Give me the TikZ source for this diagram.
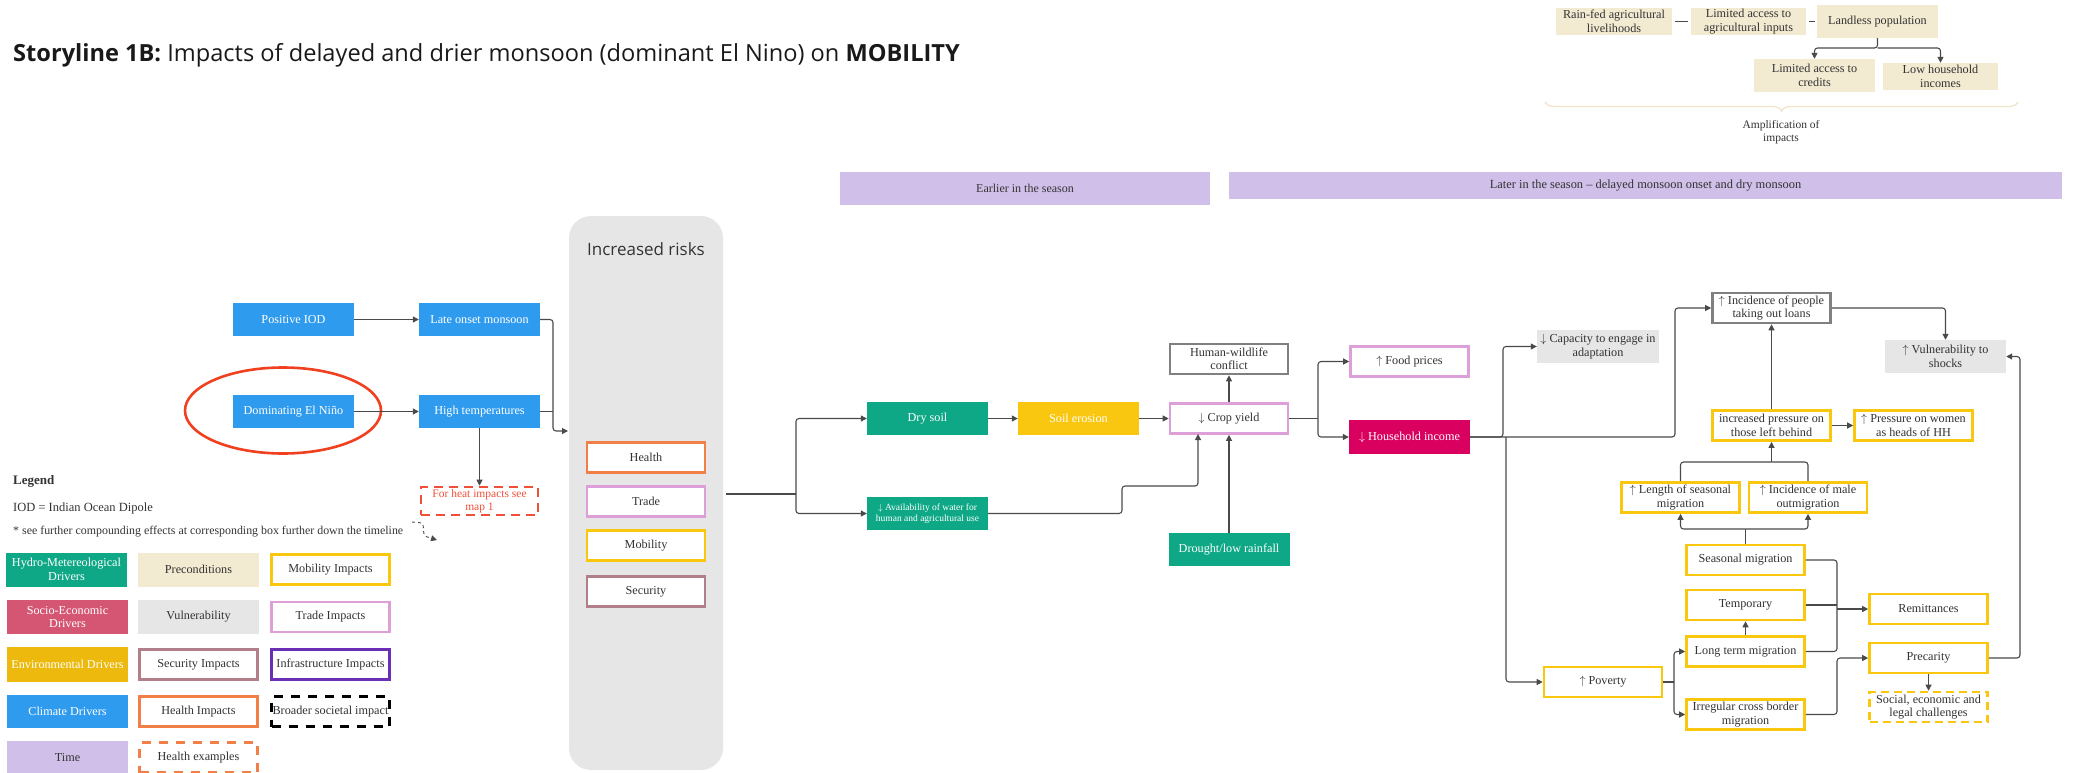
\documentclass[tikz,border=0pt]{standalone}
\usepackage{fontspec}
\setmainfont{Liberation Serif}
\newfontfamily\opensans{Open Sans}
\usetikzlibrary{arrows.meta,decorations.pathreplacing,shapes.geometric,positioning}

\definecolor{climblue}{HTML}{2F9BEF}
\definecolor{hydteal}{HTML}{0EA886}
\definecolor{envgold}{HTML}{ECB90C}
\definecolor{erosionyel}{HTML}{F9C70F}
\definecolor{socired}{HTML}{D45673}
\definecolor{hhmagenta}{HTML}{D9005F}
\definecolor{precbeige}{HTML}{F3EAD2}
\definecolor{vulngrey}{HTML}{E6E6E6}
\definecolor{timelav}{HTML}{D0BFE8}
\definecolor{mobyel}{HTML}{F9C80E}
\definecolor{tradepink}{HTML}{DD9FD8}
\definecolor{secmauve}{HTML}{B07F8A}
\definecolor{infrapurple}{HTML}{6A2FB4}
\definecolor{healthorange}{HTML}{F27F48}
\definecolor{heatred}{HTML}{F0503A}
\definecolor{ringred}{HTML}{F0401F}
\definecolor{txtdark}{HTML}{333333}
\definecolor{linegrey}{HTML}{4A4A4A}
\definecolor{bordergrey}{HTML}{808080}
\definecolor{bracebeige}{HTML}{EFE4C8}

\tikzset{
    box/.style={rectangle, minimum width=121pt, minimum height=33pt, inner sep=1pt,
        align=center, text=txtdark, font=\fontsize{12.2}{13.5}\selectfont},
    climate/.style={box, fill=climblue, text=white},
    hydro/.style={box, fill=hydteal, text=white},
    envdriver/.style={box, fill=envgold, text=white},
    socio/.style={box, fill=socired, text=white},
    precond/.style={box, fill=precbeige},
    vuln/.style={box, fill=vulngrey},
    timebar/.style={box, fill=timelav},
    framed/.style={box, fill=white, line width=2.6pt, minimum width=118pt, minimum height=30pt},
    mobility/.style={framed, draw=mobyel},
    trade/.style={framed, draw=tradepink},
    security/.style={framed, draw=secmauve},
    infra/.style={framed, draw=infrapurple},
    health/.style={framed, draw=healthorange},
    neutral/.style={framed, draw=bordergrey},
    arr/.style={draw=linegrey, line width=1.1pt, rounded corners=3pt, -{Triangle[length=6pt,width=6pt]}},
    link/.style={draw=linegrey, line width=1.1pt, rounded corners=3pt}
}

\begin{document}
\begin{tikzpicture}[x=1pt, y=-1pt]

    \useasboundingbox (0,0) rectangle (2076,773);

    % Title

    \node[anchor=base west, inner sep=0pt, text=black!90, font=\opensans\fontsize{23.6}{26}\selectfont] (title) at (13,62)
        {\textbf{Storyline 1B:} Impacts of delayed and drier monsoon (dominant El Nino) on \textbf{MOBILITY}};

    % Preconditions (top right)

    \node[precond, minimum width=116pt, minimum height=27pt] (rainfed) at (1614,21.5) {Rain-fed agricultural\\livelihoods};
    \node[precond, minimum width=115pt, minimum height=27pt] (inputs) at (1748.5,21.5) {Limited access to\\agricultural inputs};
    \node[precond] (landless) at (1877.5,21.5) {Landless population};
    \node[precond] (credits) at (1814.5,75.5) {Limited access to\\credits};
    \node[precond, minimum width=115pt, minimum height=27pt] (lowinc) at (1940.5,76.5) {Low household\\incomes};
    \draw[bracebeige, line width=1.3pt, decorate, decoration={brace, mirror, amplitude=9pt}] (1545,102) -- (2018,102);
    \node[align=center, text=txtdark, font=\fontsize{11.5}{12.5}\selectfont] (amplif) at (1781,132) {Amplification of\\impacts};

    % Time

    \node[timebar, minimum width=370pt, font=\fontsize{12}{13}\selectfont] (earlier) at (1025,188.5) {Earlier in the season};
    \node[timebar, minimum width=833pt, minimum height=27pt, font=\fontsize{12.4}{13}\selectfont] (later) at (1645.5,185.5)
        {Later in the season -- delayed monsoon onset and dry monsoon};

    % Climate drivers

    \node[climate] (posiod) at (293.5,319.5) {Positive IOD};
    \node[climate] (lateonset) at (479.5,319.5) {Late onset monsoon};
    \node[climate] (elnino) at (293.5,411.5) {Dominating El Niño};
    \node[climate] (hightemp) at (479.5,411.5) {High temperatures};
    \node[ellipse, draw=ringred, line width=2.6pt, minimum width=196pt, minimum height=86pt] (ring) at (283,410.5) {};
    \node[box, draw=heatred, dashed, dash pattern=on 9pt off 6pt, line width=2.6pt, minimum width=117pt, minimum height=28pt,
        text=heatred, font=\fontsize{11.5}{12.5}\selectfont] (heat) at (479.5,501) {For heat impacts see\\map 1};
    \coordinate (dstart) at (412,522);
    \coordinate (dend) at (437,540);

    % Increased risks

    \node[fill=vulngrey, rounded corners=22pt, minimum width=154pt, minimum height=554pt] (risks) at (646,493) {};
    \node[text=txtdark, font=\opensans\fontsize{17}{20}\selectfont] (riskstitle) at (646,249) {Increased risks};
    \node[health] (rhealth) at (646,457.5) {Health};
    \node[trade] (rtrade) at (646,501.5) {Trade};
    \node[mobility] (rmobility) at (646,545.5) {Mobility};
    \node[security] (rsecurity) at (646,591.5) {Security};
    \coordinate (riskin) at (568,431);
    \coordinate (riskout) at (726,494);

    % Impact chain

    \node[hydro] (drysoil) at (927.5,418.5) {Dry soil};
    \node[box, fill=erosionyel, text=white] (erosion) at (1078.5,418.5) {Soil erosion};
    \node[trade] (crop) at (1229,418.5) {$\downarrow$ Crop yield};
    \node[neutral] (hwc) at (1229,359) {Human-wildlife\\conflict};
    \node[hydro, font=\fontsize{9.5}{11}\selectfont] (water) at (927.5,513.5) {$\downarrow$ Availability of water for\\human and agricultural use};
    \node[hydro] (drought) at (1229,549.5) {Drought/low rainfall};
    \node[trade] (food) at (1409.5,361.5) {$\uparrow$ Food prices};
    \node[box, fill=hhmagenta, text=white, minimum height=34pt] (hhinc) at (1409.5,437) {$\downarrow$ Household income};
    \node[vuln, minimum width=122pt] (capacity) at (1598,346.5) {$\downarrow$ Capacity to engage in\\adaptation};
    \node[neutral] (loans) at (1771.5,308) {$\uparrow$ Incidence of people\\taking out loans};
    \node[vuln] (vulnsh) at (1945.5,356.5) {$\uparrow$ Vulnerability to\\shocks};
    \node[mobility] (pressure) at (1771.5,425.5) {increased pressure on\\those left behind};
    \node[mobility] (women) at (1913.5,425.5) {$\uparrow$ Pressure on women\\as heads of HH};
    \node[mobility] (lengthsm) at (1680.5,497.5) {$\uparrow$ Length of seasonal\\migration};
    \node[mobility] (malemig) at (1808,497.5) {$\uparrow$ Incidence of male\\outmigration};
    \node[mobility] (seasonal) at (1745.5,560) {Seasonal migration};
    \node[mobility] (temporary) at (1745.5,605) {Temporary};
    \node[mobility] (longterm) at (1745.5,651.5) {Long term migration};
    \node[mobility] (irregular) at (1745.5,714.5) {Irregular cross border\\migration};
    \node[mobility] (poverty) at (1603,682) {$\uparrow$ Poverty};
    \node[mobility] (remit) at (1928.5,609) {Remittances};
    \node[mobility] (precarity) at (1928.5,658) {Precarity};
    \node[mobility, dashed, dash pattern=on 8pt off 5pt] (social) at (1928.5,707) {Social, economic and\\legal challenges};

    % Legend

    \node[anchor=west, inner sep=0pt, text=txtdark, font=\bfseries\fontsize{13}{14}\selectfont] (lgtitle) at (13,481) {Legend};
    \node[anchor=west, inner sep=0pt, text=txtdark, font=\fontsize{12.5}{14}\selectfont] (lgiod) at (13,508) {IOD = Indian Ocean Dipole};
    \node[anchor=west, inner sep=0pt, text=txtdark, font=\fontsize{11.9}{14}\selectfont] (lgnote) at (13,532)
        {* see further compounding effects at corresponding box further down the timeline};
    \node[hydro, minimum height=34pt] (lghydro) at (66.5,569.5) {Hydro-Metereological\\Drivers};
    \node[precond, minimum height=34pt] (lgprecond) at (198.5,569.5) {Preconditions};
    \node[mobility] (lgmobility) at (330.5,569.5) {Mobility Impacts};
    \node[socio, minimum height=34pt] (lgsocio) at (67.5,617) {Socio-Economic\\Drivers};
    \node[vuln, minimum height=34pt] (lgvuln) at (198.5,617) {Vulnerability};
    \node[trade] (lgtrade) at (330.5,617) {Trade Impacts};
    \node[envdriver, minimum height=35pt] (lgenv) at (67.5,664.5) {Environmental Drivers};
    \node[security] (lgsecurity) at (198.5,664.5) {Security Impacts};
    \node[infra] (lginfra) at (330.5,664.5) {Infrastructure Impacts};
    \node[climate] (lgclimate) at (67.5,711.5) {Climate Drivers};
    \node[health] (lghealth) at (198.5,711.5) {Health Impacts};
    \node[framed, draw=black, dashed, dash pattern=on 9pt off 8pt] (lgbroader) at (330.5,711.5) {Broader societal impact};
    \node[timebar, minimum height=34pt] (lgtime) at (67.5,758) {Time};
    \node[framed, draw=healthorange, dashed, dash pattern=on 9pt off 8pt] (lghealthex) at (198.5,757.5) {Health examples};

    % Edges

    \draw[link, shorten <=3pt, shorten >=3pt] (rainfed) -- (inputs);
    \draw[link, shorten <=3pt, shorten >=2pt] (inputs) -- (landless);
    \draw[arr] (landless.south) -- (1877.5,48) -| (credits.north);
    \draw[arr] (1877.5,48) -| (lowinc.north);

    \draw[arr] (posiod) -- (lateonset);
    \draw[arr] (elnino) -- (hightemp);
    \draw[arr] (lateonset.east) -- (553,319.5) -- (553,431) -- (riskin);
    \draw[link] (hightemp.east) -- (553,411.5);
    \draw[arr] (hightemp.south) -- (heat.north);
    \draw[link, dashed, dash pattern=on 3pt off 3pt, line width=0.9pt, -{Triangle[length=6pt,width=6pt]}] (dstart) -- (423,523) -- (424,536) -- (dend);

    \draw[link] (riskout) -- (796,494);
    \draw[arr] (796,494) |- (drysoil.west);
    \draw[arr] (796,494) |- (water.west);
    \draw[arr] (drysoil) -- (erosion);
    \draw[arr] (erosion) -- (crop);
    \draw[arr] (water.east) -- (1122,513.5) -- (1122,486) -- (1198,486) -- (1198,434);
    \draw[arr] (drought.north) -- (crop.south);
    \draw[arr] (crop.north) -- (hwc.south);

    \draw[link] (crop.east) -- (1318,418.5);
    \draw[arr] (1318,418.5) |- (food.west);
    \draw[arr] (1318,418.5) |- (hhinc.west);
    \draw[arr] (hhinc.east) -- (1503,437) |- (capacity.west);
    \draw[arr] (hhinc.east) -- (1675,437) |- (loans.west);
    \draw[arr] (1506,437) |- (poverty.west);

    \draw[arr] (loans.east) -| (vulnsh.north);
    \draw[arr] (pressure.north) -- (loans.south);
    \draw[arr] (pressure.east) -- (women.west);
    \draw[link] (lengthsm.north) |- (1771.5,462);
    \draw[link] (malemig.north) |- (1771.5,462);
    \draw[arr] (1771.5,462) -- (pressure.south);
    \draw[link] (seasonal.north) -- (1745.5,529);
    \draw[arr] (1745.5,529) -| (lengthsm.south);
    \draw[arr] (1745.5,529) -| (malemig.south);
    \draw[arr] (longterm.north) -- (temporary.south);

    \draw[link] (poverty.east) -- (1674,682);
    \draw[arr] (1674,682) |- (longterm.west);
    \draw[arr] (1674,682) |- (irregular.west);
    \draw[link] (seasonal.east) -| (1837,609);
    \draw[link] (temporary.east) -- (1837,605);
    \draw[link] (longterm.east) -| (1837,609);
    \draw[arr] (1837,609) -- (remit.west);
    \draw[arr] (irregular.east) -- (1837,714.5) |- (precarity.west);
    \draw[arr] (precarity.south) -- (social.north);
    \draw[arr] (precarity.east) -- (2020,658) |- (vulnsh.east);

\end{tikzpicture}
\end{document}
